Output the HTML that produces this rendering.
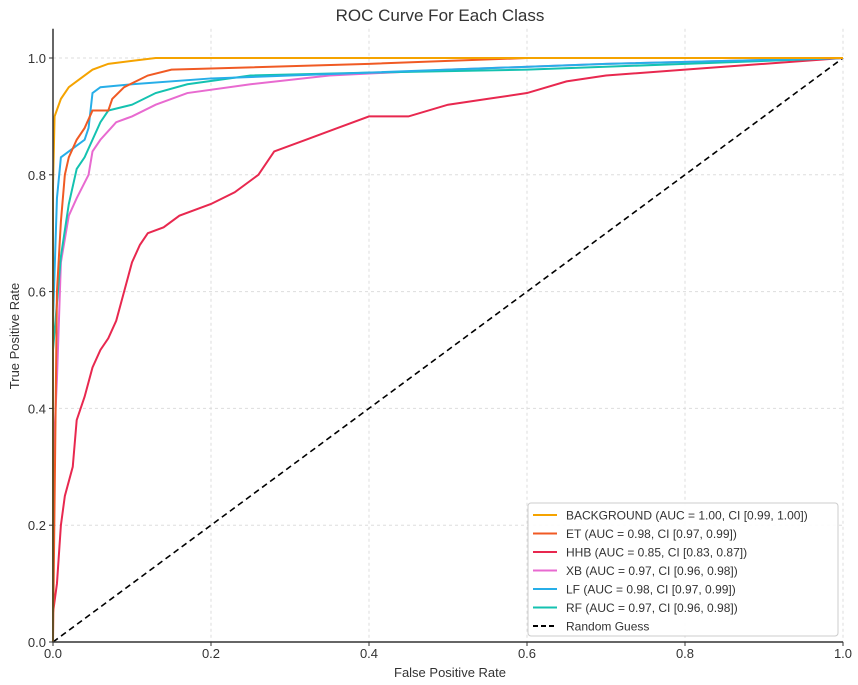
<!DOCTYPE html>
<html><head><meta charset="utf-8"><style>
body{margin:0;background:#fff;}
svg{display:block;font-family:"Liberation Sans","DejaVu Sans",sans-serif;}
</style></head><body>
<svg id="chart" width="858" height="685">
<text x="440" y="21" text-anchor="middle" font-size="17" fill="#333">ROC Curve For Each Class</text>
<g id="grid"></g>
<g id="series"></g>
<g id="axes"></g>
<text x="450" y="677" text-anchor="middle" font-size="13" fill="#333">False Positive Rate</text>
<text transform="translate(19,336) rotate(-90)" text-anchor="middle" font-size="13" fill="#333">True Positive Rate</text>
<g id="legend"></g>
</svg>
<script>
const ticks=[0,0.2,0.4,0.6,0.8,1.0];
const tickLabels=["0.0","0.2","0.4","0.6","0.8","1.0"];
const seriesNames=["BACKGROUND","ET","HHB","XB","LF","RF"];
const seriesLabels=["BACKGROUND (AUC = 1.00, CI [0.99, 1.00])","ET (AUC = 0.98, CI [0.97, 0.99])","HHB (AUC = 0.85, CI [0.83, 0.87])","XB (AUC = 0.97, CI [0.96, 0.98])","LF (AUC = 0.98, CI [0.97, 0.99])","RF (AUC = 0.97, CI [0.96, 0.98])"];
const colors=["#f5a300","#f05a24","#e8284f","#e86ad0","#27aee8","#14c2b0"];
const fprHHB=[0,0,0.005,0.01,0.015,0.025,0.03,0.04,0.05,0.06,0.07,0.08,0.09,0.1,0.11,0.12,0.14,0.16,0.2,0.23,0.26,0.28,0.32,0.36,0.4,0.45,0.5,0.55,0.6,0.65,0.7,0.8,0.9,1];
const tprHHB=[0,0.05,0.1,0.2,0.25,0.3,0.38,0.42,0.47,0.5,0.52,0.55,0.6,0.65,0.68,0.7,0.71,0.73,0.75,0.77,0.8,0.84,0.86,0.88,0.9,0.9,0.92,0.93,0.94,0.96,0.97,0.98,0.99,1];
const fprBG=[0,0,0.002,0.01,0.02,0.03,0.05,0.07,0.1,0.13,1];
const tprBG=[0,0.78,0.9,0.93,0.95,0.96,0.98,0.99,0.995,1,1];
const fprET=[0,0.005,0.01,0.015,0.02,0.03,0.04,0.05,0.07,0.075,0.09,0.12,0.15,0.4,0.6,1];
const tprET=[0,0.6,0.72,0.8,0.83,0.86,0.88,0.91,0.91,0.93,0.95,0.97,0.98,0.99,1,1];
const fprLF=[0,0,0.005,0.01,0.02,0.04,0.045,0.05,0.06,0.1,0.2,0.3,0.5,0.7,1];
const tprLF=[0,0.55,0.76,0.83,0.84,0.86,0.88,0.94,0.95,0.955,0.965,0.97,0.98,0.99,1];
const fprRF=[0,0,0.01,0.02,0.03,0.04,0.05,0.06,0.07,0.1,0.13,0.17,0.25,0.4,0.6,0.8,1];
const tprRF=[0,0.5,0.66,0.75,0.81,0.83,0.86,0.89,0.91,0.92,0.94,0.955,0.97,0.975,0.98,0.99,1];
const fprXB=[0,0,0.005,0.01,0.02,0.03,0.045,0.05,0.06,0.08,0.1,0.13,0.17,0.25,0.35,0.5,0.7,1];
const tprXB=[0,0.3,0.45,0.65,0.73,0.76,0.8,0.84,0.86,0.89,0.9,0.92,0.94,0.955,0.97,0.98,0.99,1];
const curves=[[fprBG,tprBG],[fprET,tprET],[fprHHB,tprHHB],[fprXB,tprXB],[fprLF,tprLF],[fprRF,tprRF]];
const NS="http://www.w3.org/2000/svg";
const X=v=>53+v*790, Y=v=>642-v*584;
function mk(tag,at,parent){const e=document.createElementNS(NS,tag);for(const k in at)e.setAttribute(k,at[k]);parent.appendChild(e);return e;}
const grid=document.getElementById('grid'),axes=document.getElementById('axes'),ser=document.getElementById('series'),leg=document.getElementById('legend');
ticks.forEach((t,i)=>{
 let g=mk('line',{x1:X(t),x2:X(t),y1:Y(1.05),y2:Y(0),stroke:'#ddd','stroke-dasharray':'3,3'},grid);
 
 
 g=mk('line',{x1:X(0),x2:X(1),y1:Y(t),y2:Y(t),stroke:'#ddd','stroke-dasharray':'3,3'},grid);
 
 
 let tl=mk('text',{x:X(t),y:658,'text-anchor':'middle','font-size':13,fill:'#333'},axes);tl.textContent=tickLabels[i];
 
 
 tl=mk('text',{x:46,y:Y(t)+5,'text-anchor':'end','font-size':13,fill:'#333'},axes);tl.textContent=tickLabels[i];
 
 
 mk('line',{x1:X(t),x2:X(t),y1:Y(0),y2:Y(0)+4,stroke:'#333'},axes);
 mk('line',{x1:X(0)-4,x2:X(0),y1:Y(t),y2:Y(t),stroke:'#333'},axes);
});
const sp=mk('path',{d:`M${X(0)},${Y(1.05)}V${Y(0)}H${X(1)}`,fill:'none',stroke:'#333','stroke-width':1.5},axes);


const diag=mk('line',{x1:X(0),y1:Y(0),x2:X(1),y2:Y(1),stroke:'#000','stroke-width':1.6,'stroke-dasharray':'6,4'},ser);


[2,3,5,4,1,0].forEach(i=>{
 const [fx,ty]=curves[i];
 const p=mk('polyline',{points:fx.map((v,j)=>X(v)+','+Y(ty[j])).join(' '),fill:'none',stroke:colors[i],'stroke-width':2},ser);
 
 
});
const box=mk('rect',{x:528,y:503,width:310,height:133,fill:'#fff',stroke:'#ccc',rx:3,'fill-opacity':0.9},leg);


const labs=seriesLabels.concat(["Random Guess"]);
labs.forEach((l,i)=>{
 const y=515+i*18.5;
 const ln=mk('line',{x1:533,x2:557,y1:y,y2:y,stroke:i<6?colors[i]:'#000','stroke-width':2,'stroke-dasharray':i<6?'none':'5,3'},leg);
 
 
 const t=mk('text',{x:566,y:y+4.5,'font-size':12,fill:'#333'},leg);t.textContent=l;
 
 
});
</script>
</body></html>
